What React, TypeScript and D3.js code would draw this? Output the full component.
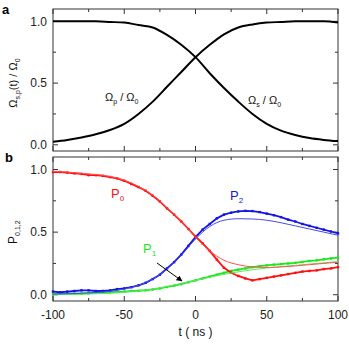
import React from "react";
import * as d3 from "d3";

// panel a: Rabi frequencies, sampled every 10 ns
const tCoarse = d3.range(-100, 101, 10);
const omegaP = [0.025, 0.04, 0.06, 0.085, 0.12, 0.17, 0.25, 0.35, 0.47, 0.59, 0.71, 0.81, 0.895, 0.95, 0.975, 0.99, 0.995, 1.0, 1.0, 1.0, 0.99];
const omegaS = [1.0, 1.0, 1.0, 1.0, 0.995, 0.99, 0.97, 0.95, 0.89, 0.81, 0.71, 0.58, 0.46, 0.35, 0.25, 0.17, 0.115, 0.08, 0.055, 0.04, 0.03];

// panel b: measured populations, every 5 ns
const tFine = d3.range(-100, 101, 5);
const p0Data = [0.98, 0.98, 0.975, 0.97, 0.965, 0.955, 0.955, 0.95, 0.94, 0.93, 0.91, 0.885, 0.86, 0.83, 0.79, 0.745, 0.69, 0.64, 0.585, 0.525, 0.465, 0.41, 0.35, 0.28, 0.215, 0.175, 0.15, 0.13, 0.115, 0.125, 0.135, 0.145, 0.155, 0.165, 0.175, 0.185, 0.19, 0.195, 0.205, 0.21, 0.22];
const p1Data = [0.005, 0.008, 0.01, 0.008, 0.01, 0.012, 0.015, 0.018, 0.02, 0.022, 0.025, 0.03, 0.032, 0.036, 0.042, 0.05, 0.062, 0.072, 0.085, 0.1, 0.115, 0.13, 0.145, 0.16, 0.175, 0.19, 0.2, 0.21, 0.22, 0.228, 0.235, 0.24, 0.245, 0.25, 0.255, 0.262, 0.27, 0.275, 0.283, 0.29, 0.296];
const p2Data = [0.025, 0.02, 0.025, 0.03, 0.035, 0.035, 0.03, 0.03, 0.035, 0.045, 0.05, 0.06, 0.075, 0.095, 0.125, 0.16, 0.21, 0.26, 0.32, 0.39, 0.46, 0.52, 0.565, 0.61, 0.64, 0.655, 0.665, 0.67, 0.668, 0.66, 0.648, 0.635, 0.62, 0.6, 0.585, 0.565, 0.55, 0.535, 0.52, 0.505, 0.49];

// panel b: theory curves, every 10 ns
const p0Fit = [0.985, 0.98, 0.97, 0.96, 0.945, 0.915, 0.865, 0.795, 0.695, 0.585, 0.46, 0.35, 0.275, 0.24, 0.222, 0.218, 0.222, 0.23, 0.24, 0.25, 0.26];
const p1Fit = [0.0, 0.002, 0.005, 0.008, 0.012, 0.02, 0.03, 0.045, 0.065, 0.09, 0.115, 0.14, 0.163, 0.183, 0.2, 0.213, 0.225, 0.235, 0.245, 0.255, 0.265];
const p2Fit = [0.005, 0.008, 0.012, 0.018, 0.027, 0.045, 0.075, 0.125, 0.205, 0.315, 0.445, 0.545, 0.595, 0.607, 0.605, 0.595, 0.575, 0.55, 0.525, 0.5, 0.475];

const xMajor = [-100, -50, 0, 50, 100];
const xMinor = [-75, -25, 25, 75];
const yMajor = [0, 0.5, 1];
const yMinor = [0.25, 0.75];

const RED = "#ff1010";
const BLUE = "#1414e6";
const GREEN = "#1ee61e";
const FONT = "'Liberation Sans', Arial, sans-serif";
const AXIS = "#333";

const L = 53, R = 338;
const A_TOP = 9, A_BOT = 151;
const B_TOP = 157, B_BOT = 301;

const x = d3.scaleLinear().domain([-100, 100]).range([L, R]);
const yA = d3.scaleLinear().domain([-0.05, 1.1]).range([A_BOT, A_TOP]);
const yB = d3.scaleLinear().domain([-0.05, 1.1]).range([B_BOT, B_TOP]);

const zip = (t: number[], v: number[]) => t.map((d, i) => [d, v[i]] as [number, number]);

const Frame = ({ y, top, bot, labels }: any) => (
  <g>
    <rect x={L} y={top} width={R - L} height={bot - top} fill="none" stroke={AXIS} strokeWidth={1} />
    {xMajor.map((t) => (
      <g key={"xM" + t}>
        <line x1={x(t)} x2={x(t)} y1={bot} y2={bot - 5} stroke={AXIS} />
        <line x1={x(t)} x2={x(t)} y1={top} y2={top + 5} stroke={AXIS} />
      </g>
    ))}
    {xMinor.map((t) => (
      <g key={"xm" + t}>
        <line x1={x(t)} x2={x(t)} y1={bot} y2={bot - 3} stroke={AXIS} />
        <line x1={x(t)} x2={x(t)} y1={top} y2={top + 3} stroke={AXIS} />
      </g>
    ))}
    {yMajor.map((v) => (
      <g key={"yM" + v}>
        <line x1={L} x2={L + 5} y1={y(v)} y2={y(v)} stroke={AXIS} />
        <line x1={R} x2={R - 5} y1={y(v)} y2={y(v)} stroke={AXIS} />
        <text x={L - 6} y={y(v)} dy="0.35em" textAnchor="end" fontSize={12} fill="#222">
          {d3.format(".1f")(v)}
        </text>
      </g>
    ))}
    {yMinor.map((v) => (
      <g key={"ym" + v}>
        <line x1={L} x2={L + 3} y1={y(v)} y2={y(v)} stroke={AXIS} />
        <line x1={R} x2={R - 3} y1={y(v)} y2={y(v)} stroke={AXIS} />
      </g>
    ))}
    {labels &&
      xMajor.map((t) => (
        <text key={"xl" + t} x={x(t)} y={bot + 18} textAnchor="middle" fontSize={12} fill="#222">
          {t}
        </text>
      ))}
  </g>
);

export default function App() {
  const lineA = d3.line<[number, number]>().x((d) => x(d[0])).y((d) => yA(d[1])).curve(d3.curveMonotoneX);
  const lineB = d3.line<[number, number]>().x((d) => x(d[0])).y((d) => yB(d[1])).curve(d3.curveMonotoneX);
  const dataLine = d3.line<[number, number]>().x((d) => x(d[0])).y((d) => yB(d[1]));

  const series = [
    { v: p1Data, fit: p1Fit, c: GREEN, fc: "#5fe85f" },
    { v: p2Data, fit: p2Fit, c: BLUE, fc: "#4a4ae6" },
    { v: p0Data, fit: p0Fit, c: RED, fc: "#ff5050" },
  ];

  return (
    <svg width={349} height={345} style={{ position: "absolute", left: 0, top: 0, fontFamily: FONT }}>
      <rect width={349} height={345} fill="#fff" />
      {/* panel a */}
      <Frame y={yA} top={A_TOP} bot={A_BOT} labels={false} />
      <path d={lineA(zip(tCoarse, omegaP)) || ""} fill="none" stroke="#000" strokeWidth={2} />
      <path d={lineA(zip(tCoarse, omegaS)) || ""} fill="none" stroke="#000" strokeWidth={2} />
      <text x={105} y={101} fontSize={11} fill="#111">
        Ω<tspan fontSize={7} dy={3}>p</tspan>
        <tspan dy={-3}> / Ω</tspan>
        <tspan fontSize={7} dy={3}>0</tspan>
      </text>
      <text x={248} y={104} fontSize={11} fill="#111">
        Ω<tspan fontSize={7} dy={3}>s</tspan>
        <tspan dy={-3}> / Ω</tspan>
        <tspan fontSize={7} dy={3}>0</tspan>
      </text>
      <text x={2} y={14} fontSize={13} fontWeight="bold">a</text>
      <text transform={`translate(17,${yA(0.5)}) rotate(-90)`} textAnchor="middle" fontSize={11} fill="#111">
        Ω<tspan fontSize={7} dy={3}>s,p</tspan>
        <tspan dy={-3}>(t) / Ω</tspan>
        <tspan fontSize={7} dy={3}>0</tspan>
      </text>

      {/* panel b */}
      <Frame y={yB} top={B_TOP} bot={B_BOT} labels={true} />
      {series.map((s, i) => (
        <g key={i}>
          <path d={dataLine(zip(tFine, s.v)) || ""} fill="none" stroke={s.c} strokeWidth={1.8} />
          {s.v.map((v, j) => (
            <rect key={j} x={x(tFine[j]) - 1.2} y={yB(v) - 1.2} width={2.4} height={2.4} fill={s.c} />
          ))}
        </g>
      ))}
      {series.map((s, i) => (
        <path key={"f" + i} d={lineB(zip(tCoarse, s.fit)) || ""} fill="none" stroke={s.fc} strokeWidth={1} />
      ))}
      <text x={111} y={198} fontSize={13} fill={RED}>
        P<tspan fontSize={8} dy={3}>0</tspan>
      </text>
      <text x={230} y={200} fontSize={13} fill={BLUE}>
        P<tspan fontSize={8} dy={3}>2</tspan>
      </text>
      <text x={143} y={253} fontSize={13} fill={GREEN}>
        P<tspan fontSize={8} dy={3}>1</tspan>
      </text>
      <defs>
        <marker id="arr" viewBox="0 0 10 10" refX={9} refY={5} markerWidth={6} markerHeight={6} orient="auto">
          <path d="M0,0 L10,5 L0,10 z" fill="#000" />
        </marker>
      </defs>
      <line x1={157} y1={263} x2={182} y2={281} stroke="#000" strokeWidth={1} markerEnd="url(#arr)" />
      <text x={5} y={162} fontSize={13} fontWeight="bold">b</text>
      <text transform={`translate(17,${yB(0.5)}) rotate(-90)`} textAnchor="middle" fontSize={12} fill="#111">
        P<tspan fontSize={7} dy={3}>0,1,2</tspan>
      </text>
      <text x={x(0)} y={336} textAnchor="middle" fontSize={12} fill="#111">
        t ( ns )
      </text>
    </svg>
  );
}
